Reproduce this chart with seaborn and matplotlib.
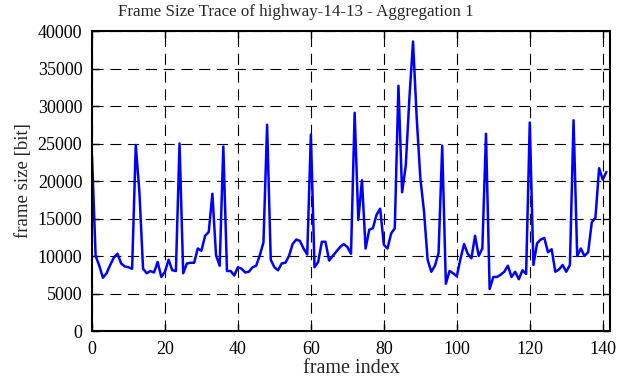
import numpy as np
import matplotlib
matplotlib.use("Agg")
import matplotlib.pyplot as plt
import seaborn as sns

# frame sizes [bit], one value per frame
frame_size = [
    23400, 10000, 8700, 7100, 7700, 8800, 9800, 10300, 9000, 8600,
    8500, 8300, 24800, 18500, 8300, 7700, 8000, 7800, 9200, 7200,
    7900, 9500, 8100, 8000, 25000, 7700, 9000, 9100, 9100, 11000,
    10700, 12700, 13200, 18300, 10100, 8700, 24600, 8000, 8000, 7400,
    8500, 8300, 7800, 7900, 8500, 8700, 10100, 11800, 27500, 9500,
    8500, 8100, 9000, 9100, 10000, 11600, 12200, 12000, 11000, 10200,
    26200, 8500, 9200, 11900, 11900, 9400, 10000, 10600, 11200, 11600,
    11200, 10300, 29100, 14800, 20100, 11000, 13500, 13700, 15500, 16300,
    11500, 11000, 13000, 13700, 32700, 18500, 22000, 31000, 38600, 28500,
    20400, 16000, 9500, 7900, 8700, 10400, 24700, 6300, 8000, 7700,
    7300, 9600, 11600, 10300, 9700, 12700, 10000, 11000, 26300, 5600,
    7200, 7200, 7500, 7900, 8700, 7200, 7900, 6900, 8100, 7600,
    27800, 8800, 11700, 12200, 12400, 10500, 10900, 7900, 8200, 8800,
    7900, 8800, 28100, 10000, 11000, 10000, 10500, 14500, 15100, 21700,
    20200, 21200,
]
frame_index = np.arange(len(frame_size))

x_ticks = [0, 20, 40, 60, 80, 100, 120, 140]
y_ticks = [0, 5000, 10000, 15000, 20000, 25000, 30000, 35000, 40000]

sns.set_style("ticks")
plt.rcParams["font.family"] = ["Liberation Serif", "DejaVu Serif"]

fig, ax = plt.subplots(figsize=(6.19, 3.82), dpi=100)
fig.subplots_adjust(left=0.1486, right=0.9855, bottom=0.1335, top=0.9188)

sns.lineplot(x=frame_index, y=frame_size, color="#0000ff", linewidth=1.8, ax=ax)

ax.set_xlim(0, 142)
ax.set_ylim(0, 40000)
ax.set_xticks(x_ticks)
ax.set_yticks(y_ticks)
ax.grid(True, color="black", linestyle=(0, (10, 6)), linewidth=0.8)
ax.tick_params(direction="in", top=True, right=True, length=5, width=1,
               labelsize=13, pad=7, colors="black")
for s in ax.spines.values():
    s.set_linewidth(1.5)
    s.set_color("black")

ax.set_xlabel("frame index", fontsize=14.5, labelpad=1)
ax.set_ylabel("frame size [bit]", fontsize=13.5, labelpad=4)
fig.text(0.478, 0.969, "Frame Size Trace of highway-14-13 - Aggregation 1",
         ha="center", va="center", fontsize=12.2)

plt.savefig("out.png", dpi=100)
